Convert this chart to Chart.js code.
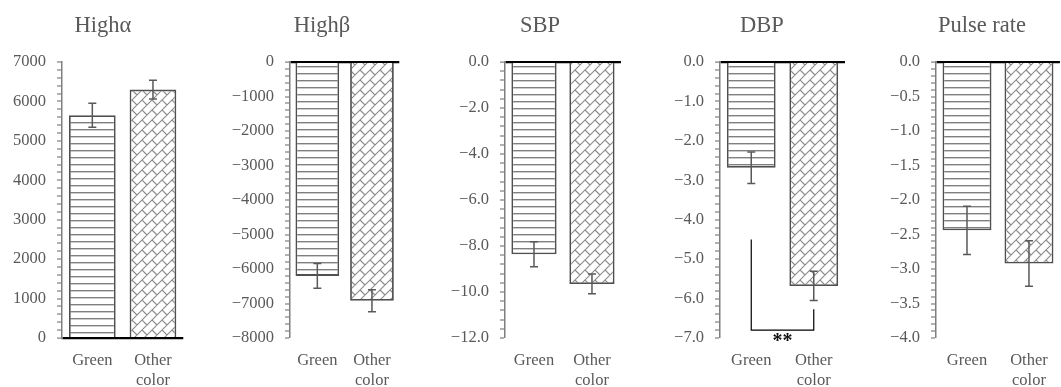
<!DOCTYPE html>
<html>
<head>
<meta charset="utf-8">
<script src="https://cdn.jsdelivr.net/npm/chart.js@4/dist/chart.umd.min.js"></script>
<style>
body { margin: 0; width: 1061px; height: 387px; overflow: hidden; background: #fff; }
.panel { position: absolute; top: 0; }
.title { position: absolute; top: 12px; line-height: 26px; font-family: "Liberation Serif", serif; font-size: 22.5px; color: #595959; transform: translateX(-50%); white-space: nowrap; }
</style>
</head>
<body>
<script>
// chart data
const categories = ['Green', ['Other', 'color']];
const titles = ['Highα', 'Highβ', 'SBP', 'DBP', 'Pulse rate'];

const highAlpha = [5650, 6300];
const highAlphaErr = [305, 240];
const highBeta = [-6200, -6920];
const highBetaErr = [360, 320];
const sbp = [-8.36, -9.65];
const sbpErr = [0.54, 0.43];
const dbp = [-2.68, -5.68];
const dbpErr = [0.40, 0.37];
const pulse = [-2.44, -2.92];
const pulseErr = [0.35, 0.33];

const yMin = [0, -8000, -12, -7, -4];
const yMax = [7000, 0, 0, 0, 0];
const yStep = [1000, 1000, 2, 1, 0.5];
const yDecimals = [0, 0, 1, 1, 1];

// DBP significance bracket (values on the y scale)
const dbpBracketEnds = [-4.5, -6.27];
const dbpBracketBase = -6.8;
const dbpBracketLabel = '**';

const values = [highAlpha, highBeta, sbp, dbp, pulse];
const errors = [highAlphaErr, highBetaErr, sbpErr, dbpErr, pulseErr];

// layout
const axisX = [62, 290, 505, 720, 936];
const plotRight = [184, 403, 623, 845, 1060];
const titleX = [103, 322, 540, 762, 982];
const barPct = [0.77, 0.8, 0.78, 0.78, 0.79];
const yAxisW = 60;
const FONT = 'Liberation Serif';
const GREY = '#595959';

function linesPattern() {
    const c = document.createElement('canvas');
    c.width = 8; c.height = 7;
    const g = c.getContext('2d');
    g.fillStyle = '#fff';
    g.fillRect(0, 0, 8, 7);
    g.fillStyle = '#7f7f7f';
    g.fillRect(0, 3, 8, 1.4);
    return g.createPattern(c, 'repeat');
}

function brickPattern() {
    const s = 10, T = 2 * s;
    const c = document.createElement('canvas');
    c.width = T; c.height = T;
    const g = c.getContext('2d');
    g.fillStyle = '#fff';
    g.fillRect(0, 0, T, T);
    g.strokeStyle = '#8a8a8a';
    g.lineWidth = 1.1;
    g.beginPath();
    for (let k = -6; k <= 8; k++) {
        const d = k * s;
        g.moveTo(-T, d + T);
        g.lineTo(2 * T, d - 2 * T);
        const off = (((k % 2) + 2) % 2) ? s : 0;
        for (let m = -4; m <= 4; m++) {
            const cc = m * T + off;
            g.moveTo((d + cc) / 2, (d - cc) / 2);
            g.lineTo((d + s + cc) / 2, (d + s - cc) / 2);
        }
    }
    g.stroke();
    return g.createPattern(c, 'repeat');
}

const errorBars = {
    id: 'errorBars',
    afterDatasetsDraw(chart) {
        const ctx = chart.ctx, y = chart.scales.y;
        const ds = chart.data.datasets[0];
        ctx.save();
        ctx.strokeStyle = GREY;
        ctx.lineWidth = 1.5;
        chart.getDatasetMeta(0).data.forEach((bar, i) => {
            const top = y.getPixelForValue(ds.data[i] + ds.errors[i]);
            const bot = y.getPixelForValue(ds.data[i] - ds.errors[i]);
            ctx.beginPath();
            ctx.moveTo(bar.x, top); ctx.lineTo(bar.x, bot);
            ctx.moveTo(bar.x - 4, top); ctx.lineTo(bar.x + 4, top);
            ctx.moveTo(bar.x - 4, bot); ctx.lineTo(bar.x + 4, bot);
            ctx.stroke();
        });
        ctx.restore();
    }
};

const bracket = {
    id: 'bracket',
    afterDatasetsDraw(chart, args, opts) {
        if (!opts.show) return;
        const ctx = chart.ctx, y = chart.scales.y;
        const bars = chart.getDatasetMeta(0).data;
        const base = y.getPixelForValue(dbpBracketBase);
        ctx.save();
        ctx.strokeStyle = '#000';
        ctx.lineWidth = 1.2;
        ctx.beginPath();
        ctx.moveTo(bars[0].x, y.getPixelForValue(dbpBracketEnds[0]));
        ctx.lineTo(bars[0].x, base);
        ctx.lineTo(bars[1].x, base);
        ctx.lineTo(bars[1].x, y.getPixelForValue(dbpBracketEnds[1]));
        ctx.stroke();
        ctx.fillStyle = '#111';
        ctx.font = 'bold 20px "' + FONT + '"';
        ctx.textAlign = 'center';
        ctx.textBaseline = 'top';
        ctx.fillText(dbpBracketLabel, (bars[0].x + bars[1].x) / 2, base + 2);
        ctx.restore();
    }
};

function fmt(v, dec) {
    return v.toFixed(dec).replace('-', '\u2212');
}

const isZero = v => Math.abs(v) < 1e-9;

for (let p = 0; p < 5; p++) {
    const div = document.createElement('div');
    div.className = 'panel';
    const left = axisX[p] - yAxisW;
    const w = yAxisW + (plotRight[p] - axisX[p]) + 1;
    div.style.left = left + 'px';
    const canvas = document.createElement('canvas');
    canvas.width = w; canvas.height = 387;
    div.appendChild(canvas);
    document.body.appendChild(div);

    const t = document.createElement('div');
    t.className = 'title';
    t.style.left = titleX[p] + 'px';
    t.textContent = titles[p];
    document.body.appendChild(t);

    const major = yStep[p];
    new Chart(canvas.getContext('2d'), {
        type: 'bar',
        data: {
            labels: categories,
            datasets: [{
                data: values[p],
                errors: errors[p],
                backgroundColor: [linesPattern(), brickPattern()],
                borderColor: '#505050',
                borderWidth: 1.8,
                categoryPercentage: 1,
                barPercentage: barPct[p]
            }]
        },
        options: {
            responsive: false,
            animation: false,
            devicePixelRatio: 1,
            layout: { padding: { top: 62, left: 0, right: 1, bottom: 0 } },
            plugins: {
                legend: { display: false },
                tooltip: { enabled: false },
                bracket: { show: p === 3 }
            },
            scales: {
                x: {
                    afterFit: s => { s.height = 49; },
                    grid: { display: false, drawTicks: false },
                    border: { display: false },
                    ticks: {
                        color: GREY,
                        padding: 13,
                        maxRotation: 0,
                        autoSkip: false,
                        font: { family: FONT, size: 16.5, lineHeight: 1.2 }
                    }
                },
                y: {
                    min: yMin[p],
                    max: yMax[p],
                    z: 1,
                    afterFit: s => { s.width = yAxisW; },
                    border: { color: '#7f7f7f', width: 1.5 },
                    grid: {
                        color: c => isZero(c.tick.value) ? '#000' : 'rgba(0,0,0,0)',
                        lineWidth: c => isZero(c.tick.value) ? 2.2 : 0,
                        tickColor: '#7f7f7f',
                        tickLength: 5,
                        tickWidth: 1.2
                    },
                    ticks: {
                        stepSize: major / 5,
                        autoSkip: false,
                        padding: 11,
                        color: GREY,
                        font: { family: FONT, size: 16.5 },
                        callback: v => {
                            const r = v / major;
                            return Math.abs(r - Math.round(r)) < 1e-6 ? fmt(Math.round(r) * major, yDecimals[p]) : '';
                        }
                    }
                }
            }
        },
        plugins: [errorBars, bracket]
    });
}
</script>
</body>
</html>
